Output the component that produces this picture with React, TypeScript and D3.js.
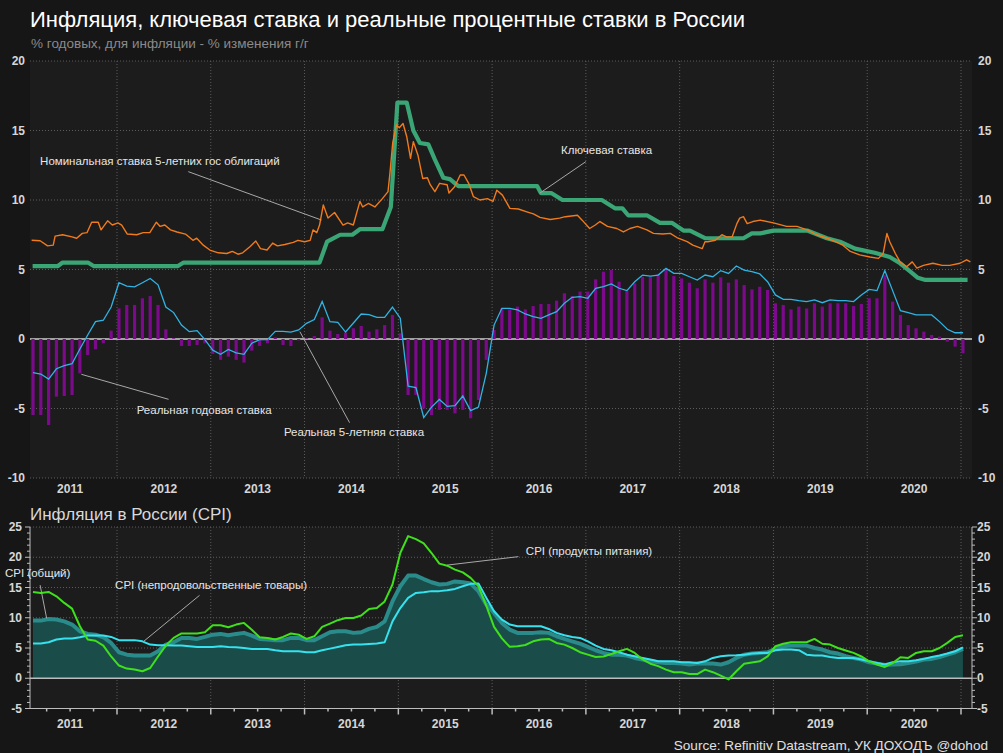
import React, { useEffect, useRef } from 'react';
import * as d3 from 'd3';

const W = 1003;
const H = 753;

// monthly values, Feb 2011 .. Jan 2021
const realOneYear = [
  -5.47, -5.47, -6.19, -4.15, -4.1, -4.03, -2.47, -1.15, -0.74, -0.31,
  0.6, 2.2, 2.45, 2.45, 2.93, 3.09, 2.45, 0.7, 0.05, -0.5,
  -0.5, -0.43, -0.31, -1.08, -1.5, -1.27, -1.5, -1.7, -0.84, -0.5,
  -0.31, 0.12, -0.43, -0.5, -0.1, 0.05, 0.22, 1.56, 0.6, 0.36,
  0.46, 0.77, 0.94, 0.53, 0.7, 1.0, 1.73, 0.41, -4.03, -4.03,
  -5.0, -5.47, -5.1, -5.1, -5.35, -5.1, -5.7, -4.39, -1.5, 0.65,
  2.2, 2.13, 2.33, 2.13, 2.37, 2.52, 2.52, 2.76, 3.29, 3.09,
  3.41, 3.41, 4.29, 4.84, 4.96, 4.12, 3.48, 4.0, 4.48, 4.48,
  4.68, 4.96, 4.53, 4.36, 4.05, 3.65, 4.29, 4.05, 4.44, 4.05,
  4.29, 3.88, 3.57, 3.76, 3.53, 2.57, 2.45, 2.13, 2.33, 2.2,
  2.57, 2.33, 2.57, 2.57, 2.57, 2.37, 2.52, 2.93, 2.93, 4.6,
  2.69, 1.73, 1.0, 0.77, 0.53, 0.29, 0.17, -0.19, -0.55, -1.03,
];

const realFiveYear = [
  -2.42, -2.52, -2.88, -2.14, -1.92, -1.78, -0.72, 0.29, 1.25, 1.35,
  2.3, 4.05, 3.8, 3.75, 4.05, 4.35, 3.9, 2.3, 1.9, 1.0,
  0.53, 0.6, -0.05, -0.8, -1.1, -0.75, -1.0, -1.1, -0.3, -0.05,
  -0.05, 0.55, 0.55, 0.5, 0.65, 1.13, 1.4, 2.7, 1.25, 1.2,
  0.5, 1.15, 1.8, 1.75, 1.55, 1.55, 2.3, 1.5, -3.4, -3.5,
  -5.65, -4.9, -4.35, -4.85, -4.8, -4.1, -5.15, -4.9, -2.47, 1.0,
  2.21, 2.21, 2.09, 1.8, 1.61, 1.49, 1.73, 1.97, 2.57, 3.0,
  3.05, 2.93, 3.65, 3.77, 3.96, 3.65, 3.48, 4.12, 4.6, 4.53,
  4.6, 5.08, 4.72, 4.72, 4.48, 4.24, 4.6, 4.48, 4.92, 4.72,
  5.25, 4.96, 4.84, 4.68, 4.12, 3.17, 2.85, 2.85, 2.76, 2.69,
  2.81, 2.61, 2.81, 2.76, 2.76, 2.69, 3.17, 3.57, 3.48, 4.92,
  3.48, 2.04, 1.89, 1.73, 1.73, 1.73, 1.25, 0.7, 0.45, 0.45,
];

const cpiFood = [
  14.27, 14.1, 14.27, 13.55, 12.45, 11.5, 8.6, 6.4, 6.2, 5.4,
  3.6, 2.1, 1.6, 1.43, 1.16, 1.7, 3.6, 5.4, 6.67, 7.4,
  7.4, 7.4, 7.6, 8.76, 8.76, 8.43, 8.87, 9.15, 8.0, 6.78,
  6.67, 6.4, 6.83, 7.4, 7.2, 6.5, 6.94, 8.5, 9.04, 9.6,
  9.97, 9.97, 10.36, 11.46, 11.6, 12.7, 15.5, 20.7, 23.5, 23.0,
  22.3, 20.7, 18.95, 18.6, 17.96, 17.5, 16.6, 15.2, 12.0, 8.5,
  6.6, 5.2, 5.3, 5.5, 6.1, 6.4, 6.5, 5.84, 5.56, 5.0,
  4.3, 3.9, 3.5, 3.6, 4.0, 4.46, 4.85, 4.19, 3.1, 2.4,
  2.0, 1.43, 1.0, 1.0, 0.7, 0.7, 1.43, 1.0, 0.44, -0.2,
  1.16, 2.4, 2.6, 2.8, 3.6, 5.3, 5.7, 5.95, 5.95, 5.95,
  6.5, 5.7, 5.56, 5.0, 4.6, 4.2, 3.6, 2.8, 2.26, 1.87,
  2.5, 3.47, 3.36, 4.19, 4.46, 4.46, 5.0, 5.84, 6.83, 7.1,
];

const cpiTotal = [
  9.53, 9.53, 9.8, 9.7, 9.4, 8.87, 7.77, 7.33, 7.2, 6.78,
  5.84, 4.3, 3.9, 3.75, 3.75, 3.75, 4.46, 5.56, 5.95, 6.67,
  6.67, 6.5, 6.83, 7.2, 7.33, 7.1, 7.33, 7.5, 7.05, 6.5,
  6.4, 6.3, 6.3, 6.67, 6.67, 6.3, 6.3, 6.94, 7.6, 7.77,
  7.77, 7.5, 7.6, 8.15, 8.5, 9.4, 12.7, 15.2, 16.97, 16.97,
  16.4, 15.87, 15.5, 15.6, 16.0, 15.87, 15.65, 14.4, 12.2, 10.8,
  9.15, 8.04, 7.5, 7.5, 7.5, 7.6, 7.5, 6.94, 6.5, 6.1,
  5.73, 5.18, 4.63, 4.19, 3.9, 3.9, 3.75, 3.36, 3.1, 2.8,
  2.64, 2.53, 2.53, 2.42, 2.26, 2.42, 2.42, 2.42, 2.26, 2.64,
  3.36, 3.9, 4.08, 4.19, 4.3, 4.85, 5.29, 5.4, 5.4, 5.4,
  5.0, 4.74, 4.3, 4.08, 3.64, 3.36, 3.1, 2.64, 2.42, 2.2,
  2.26, 2.3, 2.53, 2.75, 3.1, 3.2, 3.5, 3.9, 4.3, 4.85,
];

const cpiNonFood = [
  5.73, 5.73, 5.95, 6.4, 6.56, 6.56, 6.78, 7.05, 7.05, 7.05,
  6.83, 6.3, 6.3, 6.3, 6.1, 5.56, 5.45, 5.45, 5.4, 5.4,
  5.29, 5.18, 5.18, 5.18, 5.29, 5.18, 5.12, 5.0, 4.85, 4.85,
  4.85, 4.63, 4.46, 4.46, 4.46, 4.3, 4.3, 4.63, 4.9, 5.18,
  5.45, 5.56, 5.56, 5.67, 5.73, 5.95, 9.4, 11.6, 13.3, 14.1,
  14.2, 14.4, 14.4, 14.55, 14.77, 15.2, 15.6, 15.65, 13.3, 11.07,
  9.7, 8.87, 8.6, 8.6, 8.6, 8.6, 8.15, 7.5, 7.1, 6.83,
  6.67, 6.1, 5.4, 4.85, 4.63, 4.3, 3.9, 3.64, 3.36, 3.1,
  2.8, 2.8, 2.8, 2.64, 2.64, 2.53, 2.8, 3.36, 3.64, 3.75,
  3.8, 3.9, 4.08, 4.19, 4.19, 4.63, 4.74, 4.74, 4.63, 3.9,
  3.75, 3.75, 3.5, 3.36, 3.36, 3.36, 3.1, 2.8, 2.53, 2.26,
  2.64, 2.8, 2.8, 2.97, 3.2, 3.5, 3.75, 4.08, 4.46, 5.1,
];

// key rate, dates as decimal years
const keyRateDates = [
  2011.10, 2011.37, 2011.42, 2011.69, 2011.75, 2012.65, 2012.71, 2014.16, 2014.24, 2014.38,
  2014.51, 2014.59, 2014.83, 2014.92, 2014.99, 2015.09, 2015.16, 2015.23, 2015.32, 2015.39,
  2015.48, 2015.55, 2015.64, 2016.48, 2016.52, 2016.63, 2016.75, 2017.17, 2017.31, 2017.39,
  2017.45, 2017.65, 2017.79, 2017.92, 2018.04, 2018.11, 2018.27, 2018.68, 2018.77, 2018.86,
  2019.00, 2019.36, 2019.57, 2019.71, 2019.87, 2020.08, 2020.24, 2020.35, 2020.46, 2020.54,
  2020.62, 2021.07,
];
const keyRateValues = [
  5.25, 5.25, 5.5, 5.5, 5.25, 5.25, 5.5, 5.5, 7.0, 7.5,
  7.5, 7.9, 7.9, 9.5, 17.0, 17.0, 15.0, 14.1, 14.0, 12.9,
  11.6, 11.5, 11.0, 11.0, 10.5, 10.5, 10.0, 10.0, 9.4, 9.4,
  8.9, 8.9, 8.35, 8.35, 7.8, 7.8, 7.25, 7.25, 7.6, 7.6,
  7.8, 7.8, 7.25, 7.0, 6.5, 6.2, 5.9, 5.45, 4.85, 4.4,
  4.25, 4.25,
];

// 5-year government bond yield
const bondDates = [
  2011.09, 2011.18, 2011.26, 2011.32, 2011.34, 2011.42, 2011.52, 2011.57, 2011.63, 2011.68,
  2011.73, 2011.80, 2011.83, 2011.90, 2011.95, 2012.01, 2012.05, 2012.11, 2012.21, 2012.28,
  2012.35, 2012.42, 2012.46, 2012.51, 2012.57, 2012.64, 2012.73, 2012.81, 2012.85, 2012.92,
  2012.99, 2013.08, 2013.17, 2013.23, 2013.29, 2013.34, 2013.42, 2013.48, 2013.53, 2013.60,
  2013.66, 2013.71, 2013.79, 2013.88, 2013.93, 2014.00, 2014.06, 2014.09, 2014.13, 2014.16,
  2014.20, 2014.25, 2014.32, 2014.41, 2014.46, 2014.52, 2014.59, 2014.62, 2014.68, 2014.75,
  2014.83, 2014.89, 2014.91, 2014.94, 2014.98, 2015.01, 2015.05, 2015.09, 2015.13, 2015.16,
  2015.21, 2015.26, 2015.31, 2015.34, 2015.39, 2015.44, 2015.52, 2015.54, 2015.60, 2015.66,
  2015.70, 2015.75, 2015.80, 2015.87, 2015.95, 2016.01, 2016.05, 2016.11, 2016.19, 2016.28,
  2016.37, 2016.44, 2016.51, 2016.62, 2016.72, 2016.78, 2016.91, 2016.96, 2017.04, 2017.10,
  2017.15, 2017.23, 2017.33, 2017.40, 2017.47, 2017.55, 2017.65, 2017.72, 2017.82, 2017.90,
  2017.97, 2018.08, 2018.14, 2018.24, 2018.27, 2018.30, 2018.38, 2018.45, 2018.50, 2018.56,
  2018.61, 2018.64, 2018.68, 2018.72, 2018.78, 2018.86, 2019.00, 2019.14, 2019.25, 2019.36,
  2019.46, 2019.57, 2019.66, 2019.74, 2019.82, 2019.92, 2020.03, 2020.12, 2020.17, 2020.21,
  2020.24, 2020.30, 2020.35, 2020.42, 2020.48, 2020.53, 2020.60, 2020.70, 2020.80, 2020.88,
  2020.99, 2021.06, 2021.10,
];
const bondValues = [
  7.1, 7.07, 6.7, 6.75, 7.4, 7.5, 7.35, 7.25, 7.6, 7.65,
  8.4, 8.4, 7.85, 8.5, 8.2, 8.35, 8.2, 7.55, 7.5, 7.65,
  7.65, 8.4, 8.1, 8.2, 7.85, 7.7, 7.55, 7.1, 7.25, 6.75,
  6.4, 6.2, 6.15, 6.3, 6.1, 6.2, 6.65, 7.05, 6.5, 6.4,
  6.9, 6.7, 6.8, 6.95, 7.1, 7.0, 7.1, 7.85, 7.65, 8.2,
  9.65, 8.7, 9.1, 8.2, 8.35, 8.2, 9.9, 9.5, 9.75, 9.5,
  10.1, 10.6, 11.9, 14.1, 15.4, 15.2, 15.5, 14.55, 13.0, 14.2,
  13.2, 11.55, 11.6, 11.1, 10.6, 11.2, 11.1, 10.5, 10.95, 11.8,
  11.8, 11.2, 10.25, 10.0, 10.1, 9.9, 10.7, 10.35, 9.4, 9.35,
  9.15, 9.0, 8.75, 8.6, 8.7, 8.8, 8.9, 8.55, 7.95, 8.2,
  8.45, 8.1, 7.95, 7.7, 7.95, 8.1, 7.85, 7.6, 7.55, 7.6,
  7.3, 7.0, 6.75, 6.5, 7.0, 7.0, 7.1, 7.5, 7.35, 7.35,
  8.3, 8.7, 8.8, 8.3, 8.45, 8.55, 8.35, 8.1, 8.1, 7.85,
  7.5, 7.25, 7.0, 6.75, 6.3, 6.05, 5.9, 5.8, 6.15, 7.6,
  7.0, 6.15, 5.55, 5.2, 5.55, 5.1, 5.3, 5.45, 5.3, 5.3,
  5.45, 5.7, 5.55,
];

const yearLabels = [2011, 2012, 2013, 2014, 2015, 2016, 2017, 2018, 2019, 2020];
const topTicks = [-10, -5, 0, 5, 10, 15, 20];
const bottomTicks = [-5, 0, 5, 10, 15, 20, 25];

const FONT = '"Liberation Sans", Arial, sans-serif';

const Chart = () => {
  const svgRef = useRef<SVGSVGElement>(null);

  useEffect(() => {
    const svg = d3.select(svgRef.current);
    svg.selectAll('*').remove();

    const left = 30, right = 972;
    const x = d3.scaleLinear().domain([2011, 2021]).range([23.22, 961]);
    const yTop = d3.scaleLinear().domain([-10, 20]).range([478, 61]);
    const yBot = d3.scaleLinear().domain([-5, 25]).range([708.5, 527]);

    const monthT = realOneYear.map((_, i) => 2011 + (i + 1.25) / 12);
    const gridYears = d3.range(2012, 2022);

    svg.append('rect').attr('width', W).attr('height', H).attr('fill', '#161616');

    // titles
    svg.append('text').attr('x', 30).attr('y', 27).text('Инфляция, ключевая ставка и реальные процентные ставки в России')
      .attr('fill', '#ffffff').style('font-size', '22px');
    svg.append('text').attr('x', 31).attr('y', 48).text('% годовых, для инфляции - % изменения г/г')
      .attr('fill', '#8a8a8a').style('font-size', '13.5px');

    // ---------- top panel ----------
    const top = svg.append('g');
    top.append('rect').attr('x', left).attr('y', yTop(20)).attr('width', right - left)
      .attr('height', yTop(-10) - yTop(20)).attr('fill', '#1c1c1c');

    top.selectAll('.hgrid').data(topTicks.filter(d => d !== 0)).enter().append('line')
      .attr('x1', left).attr('x2', right).attr('y1', d => yTop(d)).attr('y2', d => yTop(d))
      .attr('stroke', '#5c5c5c').attr('stroke-dasharray', '1,2');
    top.selectAll('.vgrid').data(gridYears).enter().append('line')
      .attr('x1', d => x(d)).attr('x2', d => x(d)).attr('y1', yTop(20)).attr('y2', yTop(-10))
      .attr('stroke', '#5c5c5c').attr('stroke-dasharray', '1,2');

    top.append('line').attr('x1', left).attr('x2', right).attr('y1', yTop(0)).attr('y2', yTop(0))
      .attr('stroke', '#cfcfcf').attr('stroke-width', 1.5);

    // bars: real one-year rate
    top.selectAll('.bar').data(realOneYear).enter().append('rect')
      .attr('x', (d, i) => x(monthT[i]) - 1.6)
      .attr('y', d => Math.min(yTop(d), yTop(0)))
      .attr('width', 3.2)
      .attr('height', d => Math.abs(yTop(d) - yTop(0)))
      .attr('fill', '#7d0a8c');

    const lineTop = d3.line<[number, number]>().x(d => x(d[0])).y(d => yTop(d[1]));

    top.append('path').attr('d', lineTop(realFiveYear.map((v, i) => [monthT[i], v])))
      .attr('fill', 'none').attr('stroke', '#2fb4e4').attr('stroke-width', 1.3);
    top.append('path').attr('d', lineTop(keyRateValues.map((v, i) => [keyRateDates[i], v])))
      .attr('fill', 'none').attr('stroke', '#3aa676').attr('stroke-width', 4.2).attr('stroke-linejoin', 'round');
    top.append('path').attr('d', lineTop(bondValues.map((v, i) => [bondDates[i], v])))
      .attr('fill', 'none').attr('stroke', '#f07a1c').attr('stroke-width', 1.4).attr('stroke-linejoin', 'round');

    // tick labels
    top.selectAll('.ly').data(topTicks).enter().append('text')
      .attr('x', 25).attr('y', d => yTop(d) + 4).attr('text-anchor', 'end').text(d => d)
      .attr('fill', '#d6d6d6').style('font-size', '12px').style('font-weight', 'bold');
    top.selectAll('.ry').data(topTicks).enter().append('text')
      .attr('x', 978).attr('y', d => yTop(d) + 4).text(d => d)
      .attr('fill', '#d6d6d6').style('font-size', '12px').style('font-weight', 'bold');
    top.selectAll('.lx').data(yearLabels).enter().append('text')
      .attr('x', d => x(d + 0.5)).attr('y', 493).attr('text-anchor', 'middle').text(d => d)
      .attr('fill', '#d6d6d6').style('font-size', '12px').style('font-weight', 'bold');

    // annotations top
    const noteTop = (t: number, v: number, label: string, a: [number, number], b: [number, number]) => {
      top.append('line').attr('x1', x(a[0])).attr('y1', yTop(a[1])).attr('x2', x(b[0])).attr('y2', yTop(b[1]))
        .attr('stroke', '#a8a8a8').attr('stroke-width', 1);
      top.append('text').attr('x', x(t)).attr('y', yTop(v)).text(label)
        .attr('fill', '#e6e6e6').style('font-size', '11.5px');
    };
    noteTop(2011.18, 12.5, 'Номинальная ставка 5-летних гос облигаций', [2012.76, 12.04], [2014.18, 8.56]);
    noteTop(2016.735, 13.3, 'Ключевая ставка', [2017.0, 12.76], [2016.51, 10.5]);
    noteTop(2012.21, -5.4, 'Реальная годовая ставка', [2012.55, -4.34], [2011.62, -2.54]);
    noteTop(2013.78, -7.0, 'Реальная 5-летняя ставка', [2014.48, -6.02], [2013.95, 0.53]);

    // ---------- bottom panel ----------
    const bot = svg.append('g');
    bot.append('text').attr('x', 30).attr('y', 520).text('Инфляция в России (CPI)')
      .attr('fill', '#d8d8d8').style('font-size', '17px');
    bot.append('rect').attr('x', left).attr('y', yBot(25)).attr('width', right - left)
      .attr('height', yBot(-5) - yBot(25)).attr('fill', '#1c1c1c');

    bot.selectAll('.hgrid').data(bottomTicks.filter(d => d > 0)).enter().append('line')
      .attr('x1', left).attr('x2', right).attr('y1', d => yBot(d)).attr('y2', d => yBot(d))
      .attr('stroke', '#5c5c5c').attr('stroke-dasharray', '1,2');
    bot.selectAll('.vgrid').data(gridYears).enter().append('line')
      .attr('x1', d => x(d)).attr('x2', d => x(d)).attr('y1', yBot(25)).attr('y2', yBot(-5))
      .attr('stroke', '#5c5c5c').attr('stroke-dasharray', '1,2');

    const area = d3.area<number>().x((d, i) => x(monthT[i])).y0(yBot(0)).y1(d => yBot(d));
    bot.append('path').attr('d', area(cpiTotal)).attr('fill', '#1a4c4a');

    bot.append('line').attr('x1', left).attr('x2', right).attr('y1', yBot(0)).attr('y2', yBot(0))
      .attr('stroke', '#bdbdbd').attr('stroke-width', 1.5);

    const lineBot = d3.line<number>().x((d, i) => x(monthT[i])).y(d => yBot(d));
    bot.append('path').attr('d', lineBot(cpiTotal)).attr('fill', 'none')
      .attr('stroke', '#2a8b8b').attr('stroke-width', 4).attr('stroke-linejoin', 'round');
    bot.append('path').attr('d', lineBot(cpiNonFood)).attr('fill', 'none')
      .attr('stroke', '#35e2ee').attr('stroke-width', 2).attr('stroke-linejoin', 'round');
    bot.append('path').attr('d', lineBot(cpiFood)).attr('fill', 'none')
      .attr('stroke', '#3fe01c').attr('stroke-width', 2).attr('stroke-linejoin', 'round');

    // axes
    const axisColor = '#bdbdbd';
    bot.append('line').attr('x1', left).attr('x2', left).attr('y1', yBot(25)).attr('y2', yBot(-5)).attr('stroke', axisColor);
    bot.append('line').attr('x1', right).attr('x2', right).attr('y1', yBot(25)).attr('y2', yBot(-5)).attr('stroke', axisColor);
    bot.append('line').attr('x1', left).attr('x2', right).attr('y1', yBot(-5)).attr('y2', yBot(-5)).attr('stroke', axisColor);

    const unitTicks = d3.range(-5, 26);
    bot.selectAll('.lt').data(unitTicks).enter().append('line')
      .attr('x1', d => left - (d % 5 === 0 ? 5 : 3)).attr('x2', left)
      .attr('y1', d => yBot(d)).attr('y2', d => yBot(d)).attr('stroke', axisColor);
    bot.selectAll('.rt').data(unitTicks).enter().append('line')
      .attr('x1', right).attr('x2', d => right + (d % 5 === 0 ? 5 : 3))
      .attr('y1', d => yBot(d)).attr('y2', d => yBot(d)).attr('stroke', axisColor);

    const quarterTicks = d3.range(2011.25, 2021.01, 0.25);
    bot.selectAll('.qt').data(quarterTicks).enter().append('line')
      .attr('x1', d => x(d)).attr('x2', d => x(d))
      .attr('y1', yBot(-5)).attr('y2', d => yBot(-5) + (Math.abs(d - Math.round(d)) < 0.01 ? 6 : 3))
      .attr('stroke', axisColor).attr('stroke-width', 1.5);

    bot.selectAll('.ly').data(bottomTicks).enter().append('text')
      .attr('x', 22).attr('y', d => yBot(d) + 4).attr('text-anchor', 'end').text(d => d)
      .attr('fill', '#d6d6d6').style('font-size', '12px').style('font-weight', 'bold');
    bot.selectAll('.ry').data(bottomTicks).enter().append('text')
      .attr('x', 977).attr('y', d => yBot(d) + 4).text(d => d)
      .attr('fill', '#d6d6d6').style('font-size', '12px').style('font-weight', 'bold');
    bot.selectAll('.lx').data(yearLabels).enter().append('text')
      .attr('x', d => x(d + 0.5)).attr('y', 728).attr('text-anchor', 'middle').text(d => d)
      .attr('fill', '#d6d6d6').style('font-size', '12px').style('font-weight', 'bold');

    const noteBot = (t: number, v: number, label: string, a: [number, number], b: [number, number]) => {
      bot.append('line').attr('x1', x(a[0])).attr('y1', yBot(a[1])).attr('x2', x(b[0])).attr('y2', yBot(b[1]))
        .attr('stroke', '#a8a8a8').attr('stroke-width', 1);
      bot.append('text').attr('x', x(t)).attr('y', yBot(v)).text(label)
        .attr('fill', '#e6e6e6').style('font-size', '11.5px');
    };
    noteBot(2010.806, 16.7, 'CPI (общий)', [2011.18, 15.4], [2011.25, 9.9]);
    noteBot(2011.98, 14.67, 'CPI (непродовольственные товары)', [2012.88, 13.7], [2012.28, 6.04]);
    noteBot(2016.36, 20.37, 'CPI (продукты питания)', [2016.28, 20.1], [2015.52, 18.7]);

    svg.append('text').attr('x', 988).attr('y', 750).attr('text-anchor', 'end')
      .text('Source: Refinitiv Datastream, УК ДОХОДЪ @dohod')
      .attr('fill', '#e0e0e0').style('font-size', '13.6px');
  }, []);

  return (
    <svg ref={svgRef} width={W} height={H} viewBox={`0 0 ${W} ${H}`}
      style={{ position: 'absolute', left: 0, top: 0, fontFamily: FONT }} />
  );
};

export default function App() {
  return <Chart />;
}
